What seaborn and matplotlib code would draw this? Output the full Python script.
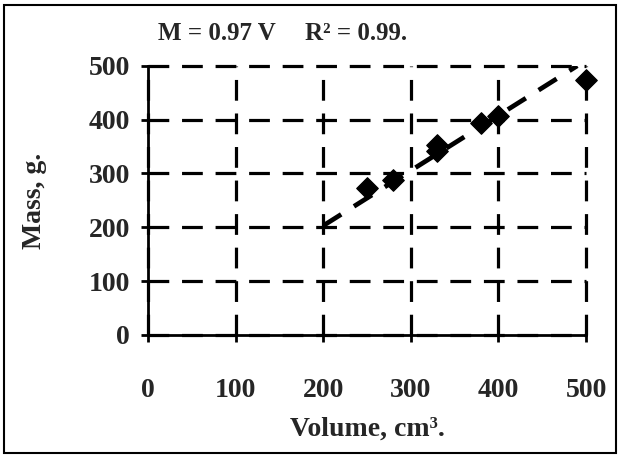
import numpy as np
import pandas as pd
import matplotlib
matplotlib.use("Agg")
import matplotlib.pyplot as plt
import seaborn as sns
from matplotlib.patches import Rectangle

volume = [250, 280, 330, 330, 380, 400, 500]
mass = [273, 288, 342, 352, 393, 406, 473]

# Trend line ends as drawn on the chart
trend_volume = [200, 490]
trend_mass = [203, 500]

ticks = [0, 100, 200, 300, 400, 500]

data = pd.DataFrame({"Volume": volume, "Mass": mass})
trend = pd.DataFrame({"Volume": trend_volume, "Mass": trend_mass})

sns.set_style("white")
plt.rcParams["font.family"] = ["Liberation Serif", "DejaVu Serif"]
plt.rcParams["font.weight"] = "bold"

fig = plt.figure(figsize=(6.2, 4.57), dpi=100)
ax = fig.add_axes([0.2387, 0.267, 0.7065, 0.589])

sns.lineplot(data=trend, x="Volume", y="Mass", ax=ax, color="black",
             linewidth=3.4, linestyle=(0, (4.5, 3.2)), zorder=3)
sns.scatterplot(data=data, x="Volume", y="Mass", ax=ax, marker="D",
                s=120, color="black", edgecolor="black", zorder=4, clip_on=False)

ax.set_xlim(0, 500)
ax.set_ylim(0, 500)
ax.set_xticks(ticks)
ax.set_yticks(ticks)
ax.grid(True, color="black", linewidth=2.3, linestyle=(0, (6.5, 4.0)))
for line in ax.get_xgridlines() + ax.get_ygridlines():
    line.set_clip_on(False)

sns.despine(ax=ax, top=True, right=True)
for side in ["left", "bottom"]:
    ax.spines[side].set_color("black")
    ax.spines[side].set_linewidth(2)

ax.tick_params(axis="both", direction="inout", length=10, width=2,
               color="black", labelsize=20, bottom=True, left=True)
ax.tick_params(axis="x", pad=26)
ax.tick_params(axis="y", pad=8)
for lab in ax.get_xticklabels() + ax.get_yticklabels():
    lab.set_fontweight("bold")

ax.set_xlabel("Volume, cm³.", fontsize=20, fontweight="bold", labelpad=10)
ax.set_ylabel("Mass, g.", fontsize=20, fontweight="bold", labelpad=30)

fig.text(0.255, 0.912, "M = 0.97 V", fontsize=18, fontweight="bold")
fig.text(0.492, 0.912, "R² = 0.99.", fontsize=18, fontweight="bold")

fig.patches.append(Rectangle((0.007, 0.009), 0.986, 0.981, transform=fig.transFigure,
                             fill=False, edgecolor="black", linewidth=1.5))

plt.savefig("out.png", dpi=100)
